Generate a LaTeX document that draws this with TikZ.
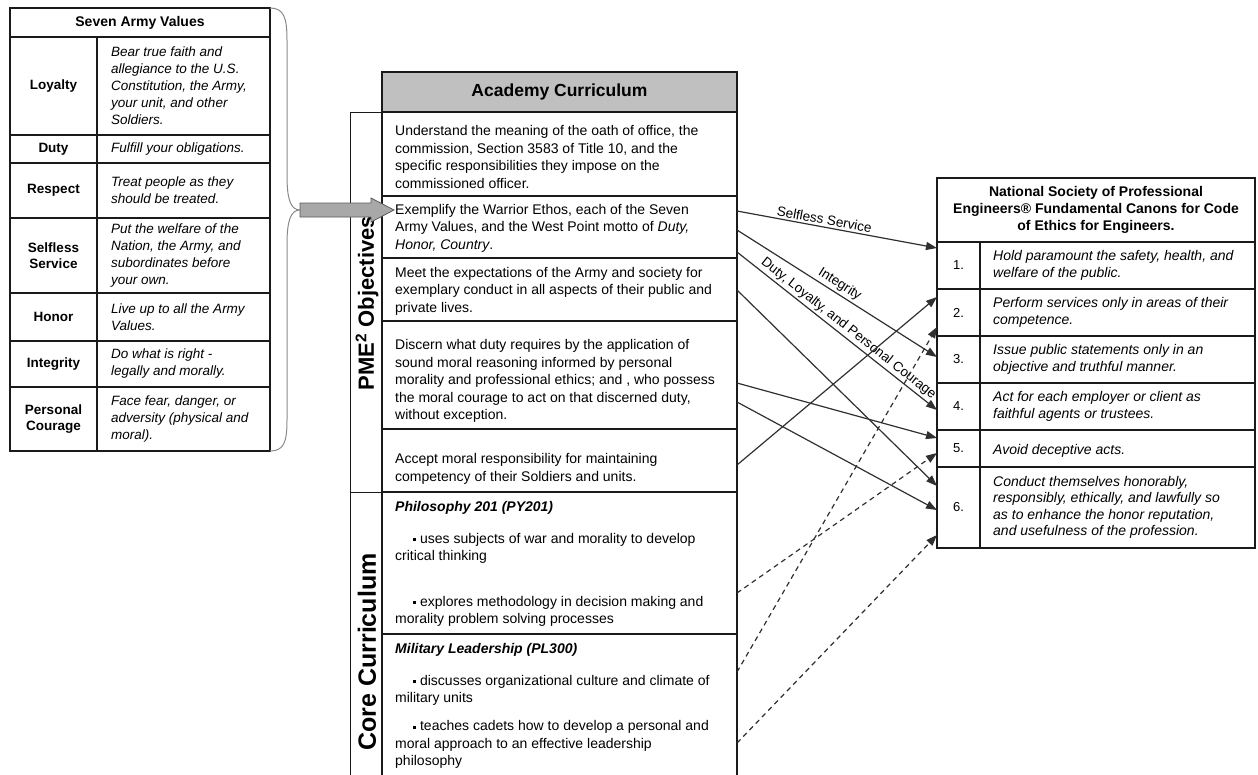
\documentclass[tikz,border=0pt]{standalone}
\usepackage{fontspec}
\setmainfont{Liberation Sans}
\usetikzlibrary{arrows.meta,calc}
\definecolor{linec}{HTML}{1A1A1A}
\definecolor{conc}{HTML}{303030}
\definecolor{hdrgray}{HTML}{C0C0C0}
\definecolor{arrfill}{HTML}{A8A8A8}
\definecolor{arrdraw}{HTML}{5A5A5A}
\definecolor{bracec}{HTML}{8A8A8A}
\newcommand{\sqb}{\rule[2pt]{3pt}{3pt}}
\begin{document}
\begin{tikzpicture}[x=1pt,y=-1pt,
 cell/.style={draw=linec, line width=1.2pt, inner sep=0pt, outer sep=0pt, anchor=north west},
 side/.style={draw=linec, line width=0.8pt, inner sep=0pt, outer sep=0pt, anchor=north west},
 lbl/.style={font=\fontsize{13.5}{16}\selectfont\bfseries, align=center, inner sep=0pt},
 ltxt/.style={font=\fontsize{13.5}{17}\selectfont\itshape, align=left, anchor=west, inner sep=0pt},
 mtxt/.style={font=\fontsize{14}{17.5}\selectfont, align=left, anchor=west, inner sep=0pt},
 mtitle/.style={font=\fontsize{14}{17.5}\selectfont\bfseries\itshape, anchor=west, inner sep=0pt},
 rtxt/.style={font=\fontsize{14}{16.5}\selectfont\itshape, align=left, anchor=west, inner sep=0pt},
 rnum/.style={font=\fontsize{13}{15}\selectfont, inner sep=0pt},
 link/.style={draw=conc, line width=1.2pt, -{Triangle[length=11pt,width=8pt]}},
 dlink/.style={link, dash pattern=on 5pt off 4pt},
 clabel/.style={font=\fontsize{13.5}{15}\selectfont, sloped, above, inner sep=2pt}]
\useasboundingbox (0,0) rectangle (1258,774);
\clip (0,0) rectangle (1258,774);

% ---------- Seven Army Values ----------
\node[cell, minimum width=260pt, minimum height=29pt] (lhead) at (10,8) {};
\node[lbl, font=\fontsize{14}{16}\selectfont\bfseries] (lheadt) at (lhead.center) {Seven Army Values};

\node[cell, minimum width=87pt, minimum height=98pt] (lk1) at (10,37) {};
\node[cell, minimum width=173pt, minimum height=98pt] (lv1) at (97,37) {};
\node[lbl] (lk1t) at (lk1.center) {Loyalty};
\node[ltxt] (lv1t) at ([xshift=14pt]lv1.west) {Bear true faith and\\allegiance to the U.S.\\Constitution, the Army,\\your unit, and other\\Soldiers.};

\node[cell, minimum width=87pt, minimum height=28pt] (lk2) at (10,135) {};
\node[cell, minimum width=173pt, minimum height=28pt] (lv2) at (97,135) {};
\node[lbl] (lk2t) at (lk2.center) {Duty};
\node[ltxt] (lv2t) at ([xshift=14pt]lv2.west) {Fulfill your obligations.};

\node[cell, minimum width=87pt, minimum height=55pt] (lk3) at (10,163) {};
\node[cell, minimum width=173pt, minimum height=55pt] (lv3) at (97,163) {};
\node[lbl] (lk3t) at (lk3.center) {Respect};
\node[ltxt] (lv3t) at ([xshift=14pt]lv3.west) {Treat people as they\\should be treated.};

\node[cell, minimum width=87pt, minimum height=75pt] (lk4) at (10,218) {};
\node[cell, minimum width=173pt, minimum height=75pt] (lv4) at (97,218) {};
\node[lbl] (lk4t) at (lk4.center) {Selfless\\Service};
\node[ltxt] (lv4t) at ([xshift=14pt]lv4.west) {Put the welfare of the\\Nation, the Army, and\\subordinates before\\your own.};

\node[cell, minimum width=87pt, minimum height=48pt] (lk5) at (10,293) {};
\node[cell, minimum width=173pt, minimum height=48pt] (lv5) at (97,293) {};
\node[lbl] (lk5t) at (lk5.center) {Honor};
\node[ltxt] (lv5t) at ([xshift=14pt]lv5.west) {Live up to all the Army\\Values.};

\node[cell, minimum width=87pt, minimum height=46pt] (lk6) at (10,341) {};
\node[cell, minimum width=173pt, minimum height=46pt] (lv6) at (97,341) {};
\node[lbl] (lk6t) at (lk6.center) {Integrity};
\node[ltxt] (lv6t) at ([xshift=14pt]lv6.west) {Do what is right -\\legally and morally.};

\node[cell, minimum width=87pt, minimum height=64pt] (lk7) at (10,387) {};
\node[cell, minimum width=173pt, minimum height=64pt] (lv7) at (97,387) {};
\node[lbl] (lk7t) at (lk7.center) {Personal\\Courage};
\node[ltxt] (lv7t) at ([xshift=14pt]lv7.west) {Face fear, danger, or\\adversity (physical and\\moral).};

% brace
\draw[bracec, line width=1pt] (270,8) .. controls (284,8) and (287,18) .. (287,40) -- (287,176)
  .. controls (287,200) and (291,210) .. (300,210)
  .. controls (291,210) and (287,220) .. (287,244) -- (287,420)
  .. controls (287,442) and (284,451) .. (270,451);

% ---------- Academy Curriculum ----------
\node[side, minimum width=32pt, minimum height=380pt] (pme) at (350,112) {};
\node[side, minimum width=32pt, minimum height=330pt] (core) at (350,492) {};
\node[font=\fontsize{22}{24}\selectfont\bfseries, rotate=90, inner sep=0pt] (pmet) at (367,303) {PME\textsuperscript{2} Objectives};
\node[font=\fontsize{25}{27}\selectfont\bfseries, rotate=90, inner sep=0pt] (coret) at (367,652) {Core Curriculum};

\node[cell, fill=hdrgray, minimum width=355pt, minimum height=40pt] (mhead) at (382,72) {};
\node[font=\fontsize{17.5}{20}\selectfont\bfseries, inner sep=0pt] (mheadt) at (mhead.center) {Academy Curriculum};

\node[cell, minimum width=355pt, minimum height=84pt] (m1) at (382,112) {};
\node[cell, minimum width=355pt, minimum height=62pt] (m2) at (382,196) {};
\node[cell, minimum width=355pt, minimum height=63pt] (m3) at (382,258) {};
\node[cell, minimum width=355pt, minimum height=108pt] (m4) at (382,321) {};
\node[cell, minimum width=355pt, minimum height=63pt] (m5) at (382,429) {};
\node[cell, minimum width=355pt, minimum height=142pt] (m6) at (382,492) {};
\node[cell, minimum width=355pt, minimum height=180pt] (m7) at (382,634) {};

\node[mtxt] (m1t) at ([xshift=13pt,yshift=-3pt]m1.west) {Understand the meaning of the oath of office, the\\commission, Section 3583 of Title 10, and the\\specific responsibilities they impose on the\\commissioned officer.};
\node[mtxt] (m2t) at ([xshift=13pt,yshift=-1pt]m2.west) {Exemplify the Warrior Ethos, each of the Seven\\Army Values, and the West Point motto of \textit{Duty,}\\\textit{Honor, Country}.};
\node[mtxt] (m3t) at ([xshift=13pt,yshift=-1.5pt]m3.west) {Meet the expectations of the Army and society for\\exemplary conduct in all aspects of their public and\\private lives.};
\node[mtxt] (m4t) at ([xshift=13pt,yshift=-6pt]m4.west) {Discern what duty requires by the application of\\sound moral reasoning informed by personal\\morality and professional ethics; and , who possess\\the moral courage to act on that discerned duty,\\without exception.};
\node[mtxt] (m5t) at ([xshift=13pt,yshift=-8.5pt]m5.west) {Accept moral responsibility for maintaining\\competency of their Soldiers and units.};

\node[mtitle] (m6h) at (395,508) {Philosophy 201 (PY201)};
\node[mtxt] (m6a) at (395,548.5) {\hspace*{18pt}\sqb\ uses subjects of war and morality to develop\\critical thinking};
\node[mtxt] (m6b) at (395,611.5) {\hspace*{18pt}\sqb\ explores methodology in decision making and\\morality problem solving processes};
\node[mtitle] (m7h) at (395,650) {Military Leadership (PL300)};
\node[mtxt] (m7a) at (395,690.5) {\hspace*{18pt}\sqb\ discusses organizational culture and climate of\\military units};
\node[mtxt] (m7b) at (395,744.5) {\hspace*{18pt}\sqb\ teaches cadets how to develop a personal and\\moral approach to an effective leadership\\philosophy};

% block arrow
\filldraw[fill=arrfill, draw=arrdraw, line width=0.8pt] (300,203) -- (371,203) -- (371,198) -- (394,210) -- (371,222) -- (371,217) -- (300,217) -- cycle;

% ---------- NSPE Canons ----------
\node[cell, minimum width=318pt, minimum height=64pt] (rhead) at (937,178) {};
\node[font=\fontsize{14}{17}\selectfont\bfseries, align=center, inner sep=0pt] (rheadt) at (rhead.center) {National Society of Professional\\Engineers® Fundamental Canons for Code\\of Ethics for Engineers.};

\node[cell, minimum width=43pt, minimum height=47pt] (n1) at (937,242) {};
\node[cell, minimum width=275pt, minimum height=47pt] (r1) at (980,242) {};
\node[cell, minimum width=43pt, minimum height=47pt] (n2) at (937,289) {};
\node[cell, minimum width=275pt, minimum height=47pt] (r2) at (980,289) {};
\node[cell, minimum width=43pt, minimum height=47pt] (n3) at (937,336) {};
\node[cell, minimum width=275pt, minimum height=47pt] (r3) at (980,336) {};
\node[cell, minimum width=43pt, minimum height=47pt] (n4) at (937,383) {};
\node[cell, minimum width=275pt, minimum height=47pt] (r4) at (980,383) {};
\node[cell, minimum width=43pt, minimum height=37pt] (n5) at (937,430) {};
\node[cell, minimum width=275pt, minimum height=37pt] (r5) at (980,430) {};
\node[cell, minimum width=43pt, minimum height=81pt] (n6) at (937,467) {};
\node[cell, minimum width=275pt, minimum height=81pt] (r6) at (980,467) {};

\node[rnum] (n1t) at (n1.center) {1.};
\node[rnum] (n2t) at (n2.center) {2.};
\node[rnum] (n3t) at (n3.center) {3.};
\node[rnum] (n4t) at (n4.center) {4.};
\node[rnum] (n5t) at (n5.center) {5.};
\node[rnum] (n6t) at (n6.center) {6.};
\node[rtxt] (r1t) at ([xshift=13pt]r1.west) {Hold paramount the safety, health, and\\welfare of the public.};
\node[rtxt] (r2t) at ([xshift=13pt]r2.west) {Perform services only in areas of their\\competence.};
\node[rtxt] (r3t) at ([xshift=13pt]r3.west) {Issue public statements only in an\\objective and truthful manner.};
\node[rtxt] (r4t) at ([xshift=13pt]r4.west) {Act for each employer or client as\\faithful agents or trustees.};
\node[rtxt] (r5t) at ([xshift=13pt,yshift=-2pt]r5.west) {Avoid deceptive acts.};
\node[rtxt] (r6t) at ([xshift=13pt]r6.west) {Conduct themselves honorably,\\responsibly, ethically, and lawfully so\\as to enhance the honor reputation,\\and usefulness of the profession.};

% ---------- connectors ----------
\draw[link] ($(m2.north east)+(0,15)$) -- node[clabel, pos=0.43] (lss) {Selfless Service} ($(n1.north west)+(0,6)$);
\draw[link] ($(m2.north east)+(0,34)$) -- node[clabel, pos=0.49] (lint) {Integrity} ($(n3.north west)+(0,21)$);
\draw[link] ($(m2.north east)+(0,56)$) -- node[clabel, pos=0.53] (ldlp) {Duty, Loyalty, and Personal Courage} ($(n4.north west)+(0,27)$);
\draw[link] ($(m3.north east)+(0,32)$) -- ($(n6.north west)+(0,19)$);
\draw[link] ($(m4.north east)+(0,62)$) -- ($(n5.north west)+(0,8)$);
\draw[link] ($(m4.north east)+(0,81)$) -- ($(n6.north west)+(0,43)$);
\draw[link] ($(m5.north east)+(0,36)$) -- ($(n2.north west)+(0,8)$);
\draw[dlink] ($(m6.north east)+(0,101)$) -- ($(n5.north west)+(0,23)$);
\draw[dlink] ($(m7.north east)+(0,38)$) -- ($(n2.north west)+(0,38)$);
\draw[dlink] ($(m7.north east)+(0,109)$) -- ($(n6.north west)+(0,68)$);
\end{tikzpicture}
\end{document}
